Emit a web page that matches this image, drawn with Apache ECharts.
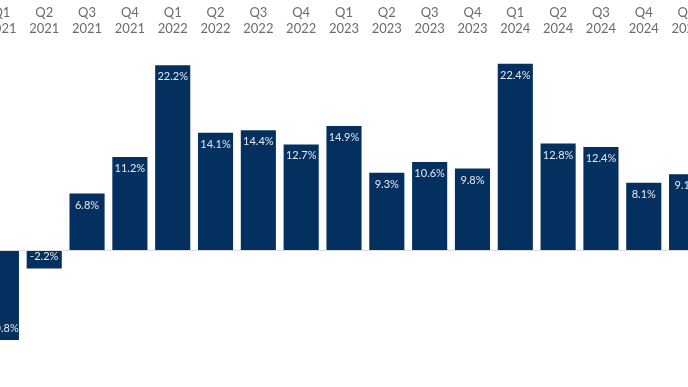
<!DOCTYPE html>
<html><head><meta charset="utf-8">
<script src="https://cdn.jsdelivr.net/npm/echarts@6/dist/echarts.min.js"></script>
<style>html,body{margin:0;padding:0;background:#fff;overflow:hidden}#c{width:728px;height:387px;margin-left:-20px}</style>
</head><body><div id="c"></div>
<script>
const categories = ["Q1\n2021","Q2\n2021","Q3\n2021","Q4\n2021","Q1\n2022","Q2\n2022","Q3\n2022","Q4\n2022","Q1\n2023","Q2\n2023","Q3\n2023","Q4\n2023","Q1\n2024","Q2\n2024","Q3\n2024","Q4\n2024","Q1\n2025"];
const growth = [-10.8,-2.2,6.8,11.2,22.2,14.1,14.4,12.7,14.9,9.3,10.6,9.8,22.4,12.8,12.4,8.1,9.1];

const chart = echarts.init(document.getElementById('c'));
chart.setOption({
  animation:false,
  grid:{left:0,right:0,top:42,bottom:12,containLabel:false},
  xAxis:{type:'category',data:categories,position:'top',
    axisLine:{show:false},axisTick:{show:false},
    axisLabel:{color:'#6b6b6b',fontFamily:'Lato, Open Sans, sans-serif',fontSize:13,lineHeight:16,margin:5,interval:0}},
  yAxis:{type:'value',min:-15,max:25,show:false,splitLine:{show:false}},
  series:[{type:'bar',barCategoryGap:'18%',
    data:growth.map(v=>({value:v,label:{position:v<0?'insideBottom':'insideTop'}})),
    itemStyle:{color:'#03305f'},
    label:{show:true,color:'#e6e9ee',fontFamily:'Lato, Open Sans, sans-serif',fontSize:11,distance:6,formatter:p=>p.value.toFixed(1)+'%'},
    markLine:{silent:true,symbol:'none',label:{show:false},lineStyle:{color:'#dddddd',type:'solid',width:1},data:[{yAxis:0}]}
  }]
});
</script></body></html>
